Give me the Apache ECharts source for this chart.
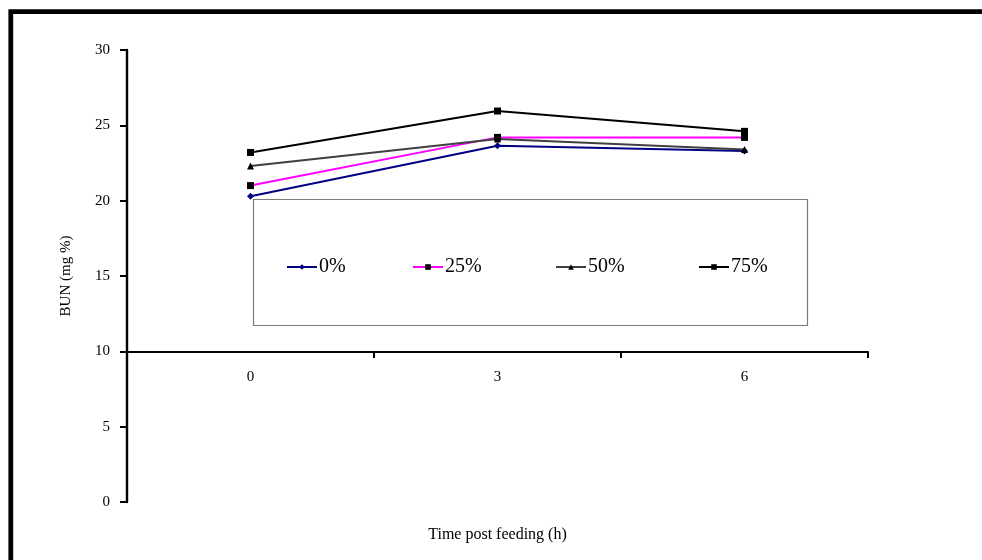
<!DOCTYPE html>
<html>
<head>
<meta charset="utf-8">
<style>
  html, body { margin: 0; padding: 0; background: #fff; }
  #chart { width: 982px; height: 560px; }
</style>
<script src="https://cdn.jsdelivr.net/npm/echarts@6/dist/echarts.min.js"></script>
</head>
<body>
<div id="chart"></div>
<script>
// Sampling times after feeding (h)
const timePoints = ['0', '3', '6'];

// Blood urea nitrogen (mg %) for each substitution level
const bun0 = [20.3, 23.65, 23.3];
const bun25 = [21.0, 24.2, 24.2];
const bun50 = [22.3, 24.1, 23.4];
const bun75 = [23.2, 25.95, 24.6];

const seriesNames = ['0%', '25%', '50%', '75%'];
const yTicks = { min: 0, max: 30, step: 5 };

const serif = '"Liberation Serif", "DejaVu Serif", serif';

// left edge of each legend entry inside the boxed legend
const legendLefts = [286, 412, 555, 698];

const chart = echarts.init(document.getElementById('chart'), null, { renderer: 'canvas' });

function lineSeries(name, data, color, symbol, size) {
  return {
    name: name,
    type: 'line',
    xAxisIndex: 0,
    yAxisIndex: 0,
    data: data,
    symbol: symbol,
    symbolSize: size,
    showSymbol: true,
    lineStyle: { color: color, width: 2 },
    itemStyle: { color: name === '25%' || name === '50%' ? '#000' : color },
    emphasis: { disabled: true },
    animation: false,
    z: 5
  };
}

const legends = seriesNames.map(function (name, i) {
  return {
    data: [name],
    left: legendLefts[i],
    top: 257,
    padding: 0,
    itemWidth: 30,
    itemHeight: 7,
    selectedMode: false,
    textStyle: { fontFamily: serif, fontSize: 20, color: '#000', padding: [0, 0, 0, -3] },
    z: 10
  };
});

chart.setOption({
  backgroundColor: '#fff',
  animation: false,
  graphic: [
    {
      // outer frame
      type: 'rect',
      shape: { x: 10.8, y: 11.6, width: 1100, height: 700 },
      style: { fill: 'none', stroke: '#000', lineWidth: 4.8 },
      z: 0
    },
    {
      // legend box
      type: 'rect',
      shape: { x: 253.5, y: 199.5, width: 554, height: 126 },
      style: { fill: '#fff', stroke: '#7a7a7a', lineWidth: 1.2 },
      z: 1
    }
  ],
  legend: legends,
  grid: [
    { left: 127, top: 50, width: 741, height: 452 },
    { left: 127, top: 50, width: 741, height: 302 }
  ],
  xAxis: [
    {
      type: 'category',
      gridIndex: 0,
      data: timePoints,
      boundaryGap: true,
      name: 'Time post feeding (h)',
      nameLocation: 'middle',
      nameGap: 25,
      nameTextStyle: { fontFamily: serif, fontSize: 16, color: '#000' },
      axisLine: { show: false },
      axisTick: { show: false },
      axisLabel: { show: false },
      splitLine: { show: false }
    },
    {
      type: 'category',
      gridIndex: 1,
      data: timePoints,
      boundaryGap: true,
      axisLine: { show: true, lineStyle: { color: '#000', width: 2 } },
      axisTick: { show: true, inside: false, length: 6, lineStyle: { color: '#000', width: 2 } },
      axisLabel: { fontFamily: serif, fontSize: 15, color: '#000', margin: 18 },
      splitLine: { show: false }
    }
  ],
  yAxis: [
    {
      type: 'value',
      gridIndex: 0,
      min: yTicks.min,
      max: yTicks.max,
      interval: yTicks.step,
      name: 'BUN (mg %)',
      nameLocation: 'middle',
      nameGap: 53,
      nameRotate: 90,
      nameTextStyle: { fontFamily: serif, fontSize: 15, color: '#000' },
      axisLine: { show: true, lineStyle: { color: '#000', width: 2.4 } },
      axisTick: { show: true, inside: false, length: 7, lineStyle: { color: '#000', width: 2 } },
      axisLabel: { fontFamily: serif, fontSize: 15, color: '#000', margin: 17 },
      splitLine: { show: false }
    },
    {
      type: 'value',
      gridIndex: 1,
      min: 10,
      max: 30,
      show: false,
      splitLine: { show: false }
    }
  ],
  series: [
    lineSeries('0%', bun0, '#000080', 'diamond', 7),
    lineSeries('25%', bun25, '#ff00ff', 'rect', 7),
    lineSeries('50%', bun50, '#404040', 'triangle', 7),
    lineSeries('75%', bun75, '#000000', 'rect', 7)
  ]
});
</script>
</body>
</html>
